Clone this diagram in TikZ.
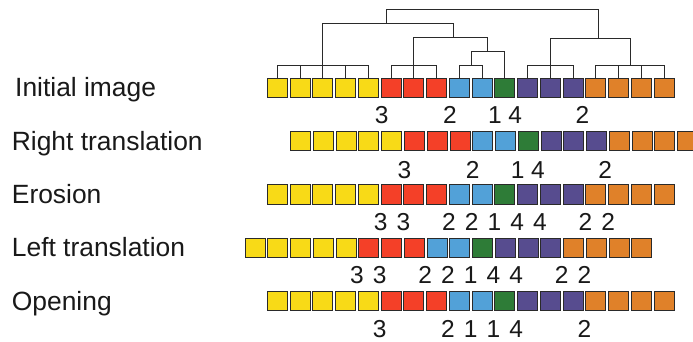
\documentclass[tikz,border=0pt]{standalone}
\usepackage{fontspec}
\setmainfont{Liberation Sans}
\definecolor{cy}{HTML}{F8DA17}
\definecolor{cr}{HTML}{F44028}
\definecolor{cb}{HTML}{52A1D8}
\definecolor{cg}{HTML}{2E7C37}
\definecolor{cp}{HTML}{574C8F}
\definecolor{co}{HTML}{E08129}
\definecolor{edge}{HTML}{2A2A2A}
\tikzset{
  sq/.style={draw=edge, line width=1bp, minimum width=20bp, minimum height=19.3bp, inner sep=0pt, outer sep=0pt},
  dl/.style={draw=edge, line width=0.9bp},
  lbl/.style={anchor=base west, inner sep=0pt, font=\fontsize{26.4bp}{30bp}\selectfont, text=black!90},
  num/.style={anchor=base, inner sep=0pt, font=\fontsize{24.5bp}{28bp}\selectfont, text=black!90}
}
\newcommand{\pitch}{22.76}
\begin{document}
\begin{tikzpicture}[x=1bp,y=-1bp]
\clip (0,0) rectangle (693,341);
\fill[white] (0,0) rectangle (693,341);
% rows of squares
\foreach \row/\xs/\yc in {1/277.3/88, 2/300.7/141.3, 3/277.3/194.5, 4/255/247.8, 5/277.3/301.3}{
  \foreach \c [count=\i from 0] in {cy,cy,cy,cy,cy,cr,cr,cr,cb,cb,cg,cp,cp,cp,co,co,co,co}{
    \node[sq, fill=\c] (r\row s\i) at ({\xs+\i*\pitch},\yc) {};
  }
}
% labels
\node[lbl] (l1) at (15,96.7) {Initial image};
\node[lbl] (l2) at (11.7,150) {Right translation};
\node[lbl] (l3) at (11.7,203.3) {Erosion};
\node[lbl] (l4) at (11.7,256.7) {Left translation};
\node[lbl] (l5) at (11.7,310) {Opening};
% numbers: boundary k position
\newcommand{\bx}[2]{{265.9+#1*\pitch+#2}}
% initial
\foreach \k/\v/\o [count=\j] in {5/3/2,8/2/2,10/1/1.5,11/4/-1,14/2/-2}
  \node[num] (n1\j) at (\bx{\k}{\o},123.3) {\v};
% right translation
\foreach \k/\v/\o [count=\j] in {6/3/2,9/2/2,11/1/1.5,12/4/-1,15/2/-2}
  \node[num] (n2\j) at (\bx{\k}{\o},178.3) {\v};
% erosion
\foreach \k/\v [count=\j] in {5/3,6/3,8/2,9/2,10/1,11/4,12/4,14/2,15/2}
  \node[num] (n3\j) at (\bx{\k}{1},230) {\v};
% left translation
\foreach \k/\v [count=\j] in {4/3,5/3,7/2,8/2,9/1,10/4,11/4,13/2,14/2}
  \node[num] (n4\j) at (\bx{\k}{0},283.3) {\v};
% opening
\foreach \k/\v [count=\j] in {5/3,8/2,9/1,10/1,11/4,14/2}
  \node[num] (n5\j) at (\bx{\k}{0},337) {\v};
% dendrogram coordinates
\coordinate (gY) at (r1s2.north |- 0,65.7);
\coordinate (gR) at (r1s6.north |- 0,65.7);
\coordinate (gB) at (471,65.7);
\coordinate (gP) at (r1s12.north |- 0,65.7);
\coordinate (gO) at (630.1,65.7);
\coordinate (m1) at (487.7,51.7);
\coordinate (m2) at (453.3,37.7);
\coordinate (m3) at (386.7,23.3);
\coordinate (m4) at (598.3,38.3);
\coordinate (tp) at (492.5,9.3);
% leaf groups
\draw[dl] (r1s0.north) |- (r1s4.north |- gY) -- (r1s4.north);
\foreach \i in {1,2,3} \draw[dl] (r1s\i.north) -- (r1s\i.north |- gY);
\draw[dl] (r1s5.north) |- (r1s7.north |- gR) -- (r1s7.north);
\draw[dl] (r1s6.north) -- (gR);
\draw[dl] (r1s8.north) |- (r1s9.north |- gB) -- (r1s9.north);
\draw[dl] (r1s11.north) |- (r1s13.north |- gP) -- (r1s13.north);
\draw[dl] (r1s12.north) -- (gP);
\draw[dl] (r1s14.north) |- (r1s17.north |- gO) -- (r1s17.north);
\foreach \i in {15,16} \draw[dl] (r1s\i.north) -- (r1s\i.north |- gO);
% merges
\draw[dl] (gB) |- (r1s10.north |- m1) -- (r1s10.north);
\draw[dl] (gR) |- (m1 |- m2) -- (m1);
\draw[dl] (gY) |- (m2 |- m3) -- (m2);
\draw[dl] (gP) |- (gO |- m4) -- (gO);
\draw[dl] (m3) |- (m4 |- tp) -- (m4);
\end{tikzpicture}
\end{document}
